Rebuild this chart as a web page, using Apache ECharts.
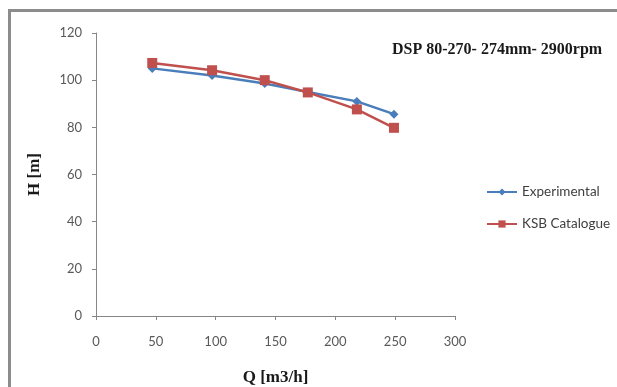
<!DOCTYPE html>
<html>
<head>
<meta charset="utf-8">
<script src="https://cdn.jsdelivr.net/npm/echarts@6/dist/echarts.min.js"></script>
<style>
  html, body { margin: 0; padding: 0; background: #fff; overflow: hidden; width: 617px; height: 387px; }
  #frame {
    position: absolute; left: 8px; top: 9px; width: 700px; height: 500px;
    border-top: 3px solid #8c8c8c; border-left: 3px solid #8c8c8c;
  }
  #chart { position: absolute; left: 0; top: 0; width: 617px; height: 387px; }
</style>
</head>
<body>
<div id="frame"></div>
<div id="chart"></div>
<script>
// ====== 泵特性曲线数据 ======
const flowQ = [47, 97, 141, 177, 218, 249];
const headExperimental = [105, 102, 98.6, 95, 91, 85.6];
const headKsb = [107.3, 104.2, 100, 94.8, 87.6, 79.8];
const xTicks = [0, 50, 100, 150, 200, 250, 300];
const yTicks = [0, 20, 40, 60, 80, 100, 120];

const toPairs = (xs, ys) => xs.map((x, i) => [x, ys[i]]);

const chart = echarts.init(document.getElementById("chart"));

const labelStyle = { color: "#595959", fontSize: 13, fontFamily: "Lato, 'Open Sans', sans-serif" };
const axisLineStyle = { color: "#868686", width: 1 };
const serifBold = { fontFamily: "'Liberation Serif', serif", fontWeight: "bold", color: "#1a1a1a" };

chart.setOption({
  animation: false,
  title: {
    text: "DSP 80-270- 274mm- 2900rpm",
    left: 387,
    top: 37,
    textStyle: { ...serifBold, fontSize: 16 },
  },
  legend: {
    orient: "vertical",
    left: 481,
    top: 180,
    itemGap: 18,
    itemWidth: 30,
    itemHeight: 9,
    textStyle: { color: "#404040", fontSize: 13.5, fontFamily: "Lato, 'Open Sans', sans-serif" },
    data: ["Experimental", "KSB Catalogue"],
  },
  grid: { left: 96, right: 162, top: 33, bottom: 71, outerBoundsMode: "none", containLabel: false },
  xAxis: {
    type: "value",
    min: xTicks[0],
    max: xTicks[xTicks.length - 1],
    interval: 50,
    name: "Q [m3/h]",
    nameLocation: "middle",
    nameGap: 53,
    nameTextStyle: { ...serifBold, fontSize: 17 },
    axisLine: { lineStyle: axisLineStyle },
    axisTick: { show: true, length: 4, lineStyle: axisLineStyle },
    axisLabel: { ...labelStyle, margin: 19 },
    splitLine: { show: false },
  },
  yAxis: {
    type: "value",
    min: yTicks[0],
    max: yTicks[yTicks.length - 1],
    interval: 20,
    name: "H [m]",
    nameLocation: "middle",
    nameGap: 53,
    nameRotate: 90,
    nameTextStyle: { ...serifBold, fontSize: 17 },
    axisLine: { show: true, lineStyle: axisLineStyle },
    axisTick: { show: true, length: 4, lineStyle: axisLineStyle },
    axisLabel: { ...labelStyle, margin: 14 },
    splitLine: { show: false },
  },
  series: [
    {
      name: "Experimental",
      type: "line",
      symbol: "diamond",
      symbolSize: 9,
      lineStyle: { color: "#4a7ebb", width: 2.5 },
      itemStyle: { color: "#4a7ebb" },
      z: 2,
      data: toPairs(flowQ, headExperimental),
    },
    {
      name: "KSB Catalogue",
      type: "line",
      symbol: "rect",
      symbolSize: 10,
      lineStyle: { color: "#c0504d", width: 2.5 },
      itemStyle: { color: "#c0504d" },
      z: 3,
      data: toPairs(flowQ, headKsb),
    },
  ],
});
</script>
</body>
</html>
